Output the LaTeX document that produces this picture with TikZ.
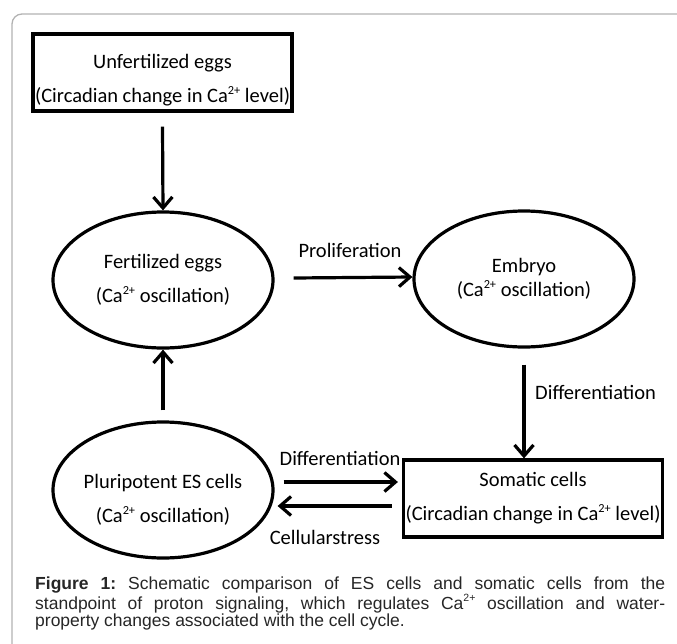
\documentclass[tikz,border=0pt]{standalone}
\usepackage{fontspec}
\setmainfont{Carlito}
\newfontfamily\captionfont{Liberation Sans}
\usetikzlibrary{shapes,positioning,fit,calc,arrows.meta}

% Calcium ion with a small raised charge
\newcommand{\Catwo}{Ca\raisebox{0.42em}{\scalebox{0.6}{2+}}}

\begin{document}
\begin{tikzpicture}[x=1pt, y=-1pt]

        \def\d{14pt}

        % Styles for the cell boxes, the ovals, the step labels
        % and the arrows between them
        \tikzset{
            celltext/.style={align=center, inner sep=0pt,
                font=\fontsize{20.5}{34}\selectfont},
            cellbox/.style={celltext, draw, line width=3.2pt,
                minimum width=259pt, minimum height=77pt},
            celloval/.style={celltext, draw, ellipse, line width=3.2pt,
                minimum width=220pt, minimum height=136pt},
            steplabel/.style={inner sep=0pt,
                font=\fontsize{20.5}{24}\selectfont},
            arr/.style={line width=3.2pt,
                -{Straight Barb[length=11pt, width=19pt]}}
        }

        \useasboundingbox (0, 0) rectangle (677, 643);
        \clip (0, 0) rectangle (677, 643);

        % Frame of the figure
        \draw[black!30, line width=1.3pt, rounded corners=10pt]
            (700, 14) -- (12, 14) -- (12, 680);

        % Scope used for the cells
        \begin{scope}
            \node[cellbox, text height=64pt] (UE) at (162.5, 72.5)
            {Unfertilized eggs\\(Circadian change in \Catwo{} level)};
            \node[celloval] (FE) at (163, 280)
            {Fertilized eggs\\(\Catwo{} oscillation)};
            \node[celloval, font=\fontsize{20.5}{24}\selectfont] (EM) at (524, 279)
            {Embryo\\(\Catwo{} oscillation)};
            \node[cellbox] (SC) at (533, 498.5)
            {Somatic cells\\(Circadian change in \Catwo{} level)};
            \node[celloval] (PS) at (163, 490) {};
            \node[celltext] (PStext) at (163, 500)
            {Pluripotent ES cells\\(\Catwo{} oscillation)};
        \end{scope}

        % Labels of the steps
        \node[steplabel] (Lprol) at (350, 250) {Proliferation};
        \node[steplabel, anchor=west] (Ldiff) at (535, 392) {Differentiation};
        \node[steplabel] (Ldiffb) at (340, 458) {Differentiation};
        \node[steplabel] (Lstress) at (325, 537) {Cellularstress};

        \begin{scope}[arr]
            \draw ([yshift=-\d]UE.south) -- (FE.north);
            \draw ([xshift=19pt, yshift=2pt]FE.east) -- ([yshift=2pt]EM.west);
            \draw ([yshift=-16pt]EM.south) -- (EM.south |- SC.north);
            \draw ([yshift=10pt]PS.north) -- (FE.south);
            \draw ([xshift=9pt, yshift=8pt]PS.east)
                -- ([xshift=-4pt, yshift=16.5pt]SC.west);
            \draw ([xshift=-10pt, yshift=-7.5pt]SC.west)
                -- ([xshift=3pt, yshift=-16pt]PS.east);
        \end{scope}

        % Caption under the picture
        \node[anchor=north west, text width=630pt, inner sep=0pt,
            align=justify, text=black!85,
            font=\captionfont\fontsize{17.5}{17.5}\selectfont\frenchspacing]
            (CAP) at (35, 577)
        {\textbf{Figure 1:} Schematic comparison of ES cells and somatic cells
        from the\linebreak standpoint of proton signaling, which regulates
        \Catwo{} oscillation and water-\linebreak property changes
        associated with the cell cycle.};

\end{tikzpicture}
\end{document}
